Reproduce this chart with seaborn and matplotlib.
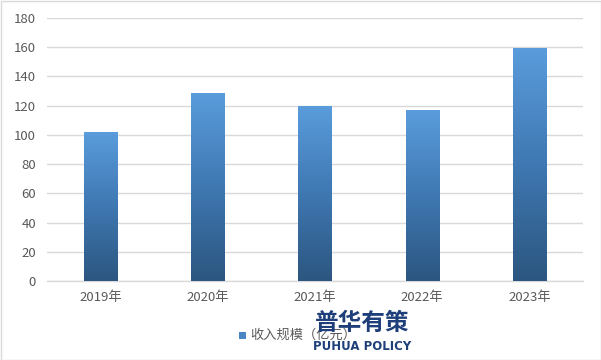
import numpy as np
import pandas as pd
import matplotlib
matplotlib.use("Agg")
import matplotlib.pyplot as plt
import seaborn as sns
from matplotlib.colors import LinearSegmentedColormap
from matplotlib.patches import Rectangle

years = ["2019年", "2020年", "2021年", "2022年", "2023年"]
revenue = [102, 128.7, 119.8, 117, 159.5]
series_name = "收入规模（亿元）"

sns.set_theme(style="white")
plt.rcParams['font.family'] = ['Noto Sans CJK SC', 'DejaVu Sans']

df = pd.DataFrame({"year": years, "value": revenue})

fig = plt.figure(figsize=(6.01, 3.6), dpi=100)
ax = fig.add_axes([47/601, 1-281/360, 536/601, 263/360])

sns.barplot(data=df, x="year", y="value", ax=ax, width=0.31, color="#4a86c4",
            saturation=1, zorder=3)

cmap = LinearSegmentedColormap.from_list("g", ["#2c5680", "#3f78b2", "#5a9cdc"])
grad = np.linspace(0, 1, 256).reshape(-1, 1)
for p in ax.patches:
    x0, y0 = p.get_x(), p.get_y()
    w, h = p.get_width(), p.get_height()
    p.set_facecolor("none")
    p.set_edgecolor("none")
    im = ax.imshow(grad, extent=[x0, x0 + w, y0, y0 + h], origin="lower",
                   cmap=cmap, aspect="auto", zorder=3)
    im.set_clip_path(p)

ax.set_xlim(-0.5, 4.5)
ax.set_ylim(0, 180)
ax.set_yticks(range(0, 181, 20))
ax.yaxis.grid(True, color="#d9d9d9", linewidth=1, zorder=0)
ax.set_axisbelow(True)
for s in ["top", "right", "left"]:
    ax.spines[s].set_visible(False)
ax.spines["bottom"].set_color("#d9d9d9")
ax.spines["bottom"].set_linewidth(1)
ax.tick_params(axis="both", length=0, labelsize=9.5, colors="#595959", pad=8)
ax.tick_params(axis="x", pad=7)
ax.set_xlabel("")
ax.set_ylabel("")

# legend
fig.patches.append(Rectangle((239/601, 1-339/360), 7/601, 7/360, transform=fig.transFigure,
                             facecolor="#4a86c4", edgecolor="none"))
fig.text(250/601, 1-335/360, series_name, fontsize=9.5, color="#595959", va="center", ha="left")

# watermark
fig.text(362/601, 1-323/360, "普华有策", fontsize=17, color="#1f3f7a", weight="bold",
         ha="center", va="center")
fig.text(362/601, 1-346/360, "PUHUA POLICY", fontsize=8.5, color="#1f3f7a", weight="bold",
         ha="center", va="center", family="DejaVu Sans")

# figure border
fig.patches.append(Rectangle((0.5/601, 0.5/360), 1-1/601, 1-1/360, transform=fig.transFigure,
                             fill=False, edgecolor="#d9d9d9", linewidth=1))

fig.savefig("out.png", dpi=100)
